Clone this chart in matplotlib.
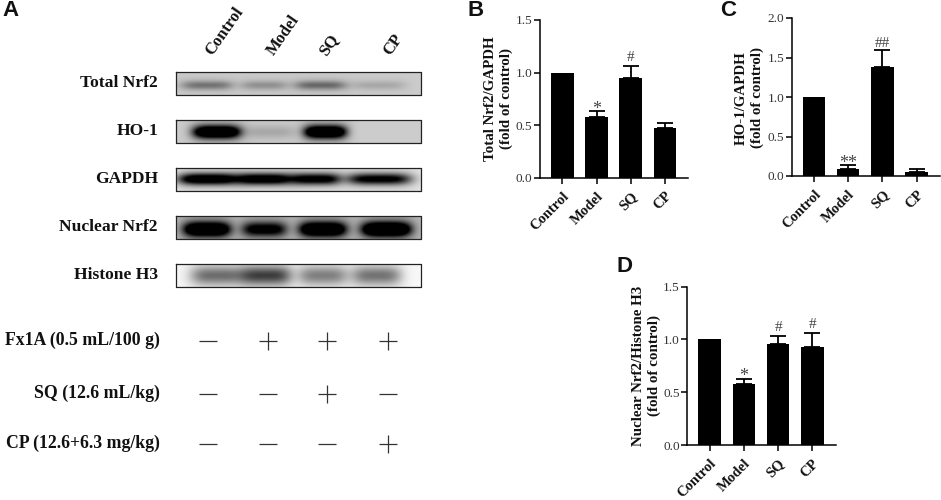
import numpy as np
import matplotlib
matplotlib.use('Agg')
import matplotlib.pyplot as plt

W, H = 941, 500
plt.rcParams['font.family'] = ['Liberation Serif', 'DejaVu Serif']

groups = ['Control', 'Model', 'SQ', 'CP']

# bar charts
b_vals = [1.0, 0.58, 0.945, 0.47]
b_errs = [0, 0.055, 0.12, 0.055]
b_sig = ['', '*', '#', '']
c_vals = [1.0, 0.09, 1.38, 0.055]
c_errs = [0, 0.045, 0.22, 0.03]
c_sig = ['', '**', '##', '']
d_vals = [1.0, 0.58, 0.96, 0.93]
d_errs = [0, 0.05, 0.07, 0.13]
d_sig = ['', '*', '#', '#']

# blots: band centre, half width, darkness for each lane
blot_names = ['Total Nrf2', 'HO-1', 'GAPDH', 'Nuclear Nrf2', 'Histone H3']
blot_tops = [72, 120, 168, 216, 264]
blot_bg = [0.80, 0.80, 0.90, 0.72, 0.97]
blot_centres = [[0.125, 0.36, 0.59, 0.83],
                [0.165, 0.38, 0.61, 0.83],
                [0.13, 0.36, 0.57, 0.83],
                [0.125, 0.36, 0.60, 0.86],
                [0.17, 0.37, 0.60, 0.82]]
blot_widths = [[0.105, 0.095, 0.105, 0.11],
               [0.095, 0.11, 0.085, 0.10],
               [0.12, 0.11, 0.10, 0.13],
               [0.095, 0.09, 0.095, 0.10],
               [0.11, 0.10, 0.10, 0.10]]
blot_dark = [[0.30, 0.20, 0.34, 0.12],
             [1.2, 0.12, 1.2, 0.0],
             [1.05, 1.0, 0.9, 0.85],
             [1.1, 0.75, 1.1, 1.2],
             [0.46, 0.62, 0.40, 0.44]]
blot_ypos = [0.58, 0.52, 0.48, 0.58, 0.50]
blot_yw = [0.20, 0.28, 0.25, 0.32, 0.42]

# treatment table
treat_names = ['Fx1A (0.5 mL/100 g)', 'SQ (12.6 mL/kg)', 'CP (12.6+6.3 mg/kg)']
treat_signs = [['-', '+', '+', '+'],
               ['-', '-', '+', '-'],
               ['-', '-', '-', '+']]
lane_x = [208, 268, 327, 388]
treat_y = [341, 394, 444]

fig = plt.figure(figsize=(W / 100, H / 100), dpi=100)
page = fig.add_axes([0, 0, 1, 1])
page.set_xlim(0, W)
page.set_ylim(H, 0)
page.axis('off')

# panel A blots
for i, name in enumerate(blot_names):
    x = np.linspace(0, 1, 245)
    y = np.linspace(0, 1, 24)[:, None]
    img = np.full((24, 245), blot_bg[i])
    for c, w, d in zip(blot_centres[i], blot_widths[i], blot_dark[i]):
        img = img - d * np.exp(-((x - c) / w) ** 4) * np.exp(-((y - blot_ypos[i]) / blot_yw[i]) ** 2)
        # faint haze around each band
        img = img - 0.18 * min(d, 1) * np.exp(-((x - c) / (1.2 * w)) ** 4) * np.exp(-((y - blot_ypos[i]) / (2 * blot_yw[i])) ** 2)
    top = blot_tops[i]
    page.imshow(np.clip(img, 0, 1), cmap='gray', vmin=0, vmax=1, aspect='auto',
                extent=(176, 421, top + 23, top), interpolation='bilinear')
    page.plot([176, 421, 421, 176, 176], [top, top, top + 23, top + 23, top], color='#222222', lw=0.9)
    page.text(158, top + 11, name, ha='right', va='center', fontsize=12.6, fontweight='bold', color='#111111')
page.set_xlim(0, W)
page.set_ylim(H, 0)

header_x = [212, 274, 326, 390]
for x, g in zip(header_x, groups):
    page.text(x, 56, g, rotation=55, rotation_mode='anchor', ha='left', va='baseline',
              fontsize=12, fontweight='bold', color='#111111')

for name, y, signs in zip(treat_names, treat_y, treat_signs):
    page.text(160, y - 1, name, ha='right', va='center', fontsize=12.8, fontweight='bold', color='#111111')
    for x, s in zip(lane_x, signs):
        page.plot([x], [y], marker='_' if s == '-' else '+', ms=12.5, mew=0.9, color='#333333')

panel_letters = ['A', 'B', 'C', 'D']
panel_x = [2, 468, 720, 617]
panel_y = [11, 10, 10, 266]
for s, x, y in zip(panel_letters, panel_x, panel_y):
    page.text(x, y, s, ha='left', va='center', fontsize=16, fontweight='bold', family='Liberation Sans', color='#111111')


def bar_panel(left, right, y0, ytop, first_tick, ymax, yticks, vals, errs, sig, ylabel, lab_x, lab_y, hash_pad=1.5):
    ax = fig.add_axes([left / W, 1 - y0 / H, (right - left) / W, (y0 - ytop) / H])
    ax.patch.set_alpha(0)
    step = 34.2
    ax.set_xlim((left - first_tick) / step, (right - first_tick) / step)
    ax.set_ylim(0, ymax)
    xs = np.arange(len(vals))
    ax.bar(xs, vals, width=0.66, color='black')
    ax.errorbar(xs[1:], vals[1:], yerr=[np.zeros(3), errs[1:]], fmt='none', ecolor='black',
                elinewidth=1.3, capsize=5.8, capthick=1.3)
    for i, s in enumerate(sig):
        if s:
            star = '*' in s
            ax.annotate(s, (i, vals[i] + errs[i]), xytext=(0, -5 if star else hash_pad), textcoords='offset points',
                        ha='center', va='bottom', fontsize=13 if star else 11, color='#444444')
    for sp in ['top', 'right']:
        ax.spines[sp].set_visible(False)
    for sp in ['left', 'bottom']:
        ax.spines[sp].set_linewidth(1.1)
    ax.set_yticks(yticks)
    ax.set_yticklabels(['%.1f' % t for t in yticks], fontsize=9.5, color='#333333')
    ax.set_xticks(xs)
    ax.set_xticklabels(groups, rotation=45, ha='right', rotation_mode='anchor', fontsize=10.5,
                       fontweight='bold', color='#111111')
    ax.tick_params(axis='both', length=4.5, width=1.1)
    ax.tick_params(axis='y', pad=1)
    ax.tick_params(axis='x', pad=4)
    page.text(lab_x, lab_y, ylabel, rotation=90, ha='center', va='center', fontsize=10.8,
              fontweight='bold', color='#111111', linespacing=1.2, multialignment='center')


bar_panel(540, 688, 177.7, 20, 562.3, 1.5, [0, 0.5, 1.0, 1.5], b_vals, b_errs, b_sig,
          'Total Nrf2/GAPDH\n(fold of control)', 498.5, 98.5)
bar_panel(791.7, 940, 176, 18, 814, 2.0, [0, 0.5, 1.0, 1.5, 2.0], c_vals, c_errs, c_sig,
          'HO-1/GAPDH\n(fold of control)', 749.5, 98, hash_pad=0)
bar_panel(687.3, 835.7, 445, 286.7, 709.7, 1.5, [0, 0.5, 1.0, 1.5], d_vals, d_errs, d_sig,
          'Nuclear Nrf2/Histone H3\n(fold of control)', 646.5, 366)

plt.savefig('out.png', dpi=100)
